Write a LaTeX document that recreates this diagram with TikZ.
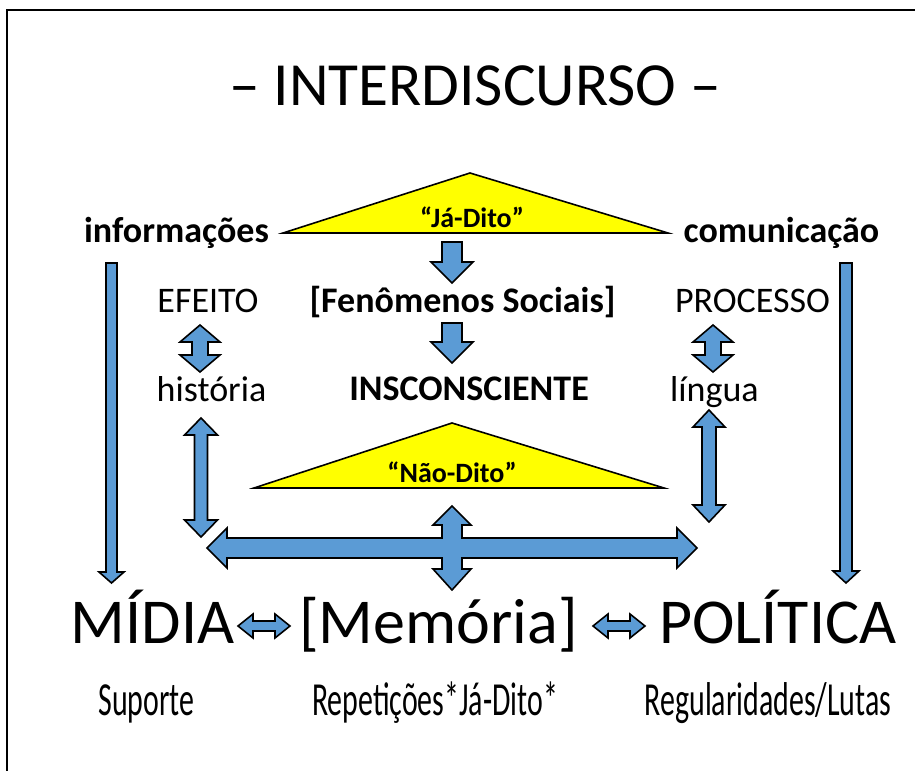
\documentclass[tikz,border=0pt]{standalone}
\usepackage{fontspec}
\setmainfont{Carlito}
\newfontfamily\narrowfont[FakeStretch=0.63]{Carlito}
\definecolor{arrowblue}{RGB}{91,155,213}
\definecolor{triyellow}{RGB}{255,255,0}
\newcommand\vdbl[6]{% x, ytop, ybot, shaft half, head half, head length
  \draw[blk] (#1-#4,#2+#6) -- (#1-#5,#2+#6) -- (#1,#2) -- (#1+#5,#2+#6) -- (#1+#4,#2+#6)
    -- (#1+#4,#3-#6) -- (#1+#5,#3-#6) -- (#1,#3) -- (#1-#5,#3-#6) -- (#1-#4,#3-#6) -- cycle;}
\newcommand\vdown[6]{% x, ytop, ytip, shaft half, head half, head length
  \draw[blk] (#1-#4,#2) -- (#1+#4,#2) -- (#1+#4,#3-#6) -- (#1+#5,#3-#6) -- (#1,#3)
    -- (#1-#5,#3-#6) -- (#1-#4,#3-#6) -- cycle;}
\newcommand\hdbl[6]{% y, xleft, xright, shaft half, head half, head length
  \draw[blk] (#2,#1) -- (#2+#6,#1-#5) -- (#2+#6,#1-#4) -- (#3-#6,#1-#4) -- (#3-#6,#1-#5)
    -- (#3,#1) -- (#3-#6,#1+#5) -- (#3-#6,#1+#4) -- (#2+#6,#1+#4) -- (#2+#6,#1+#5) -- cycle;}
\begin{document}
\begin{tikzpicture}[x=0.75pt,y=-0.75pt,
  lbl/.style={inner sep=0pt, outer sep=0pt, anchor=base},
  blk/.style={draw=black, line width=1.2pt, fill=arrowblue, line join=miter},
  tri/.style={draw=black, line width=1.2pt, fill=triyellow, line join=miter},
  frame/.style={draw=black, line width=1.6pt},
  titlef/.style={font=\fontsize{46}{50}\selectfont},
  midf/.style={font=\fontsize{27}{30}\selectfont},
  midbf/.style={font=\fontsize{27}{30}\selectfont\bfseries},
  labf/.style={font=\fontsize{21}{24}\selectfont\bfseries},
  bigf/.style={font=\fontsize{48}{52}\selectfont},
  smallf/.style={font=\fontsize{35.6}{40}\selectfont\narrowfont}]
\useasboundingbox (0,0) rectangle (915,771);
% frame
\draw[frame] (7,771) -- (7,10) -- (915,10);
% title
\node[lbl, titlef] (title) at (475,105) {– INTERDISCURSO –};
% triangles
\draw[tri] (283,233) -- (470,173) -- (668,233) -- cycle;
\draw[tri] (254,488) -- (452,423) -- (664,488) -- cycle;
\node[lbl, labf] (jadito) at (472,227) {“Já-Dito”};
\node[lbl, labf] (naodito) at (452,482) {“Não-Dito”};
% side words
\node[lbl, midbf] (info) at (176.5,242) {informações};
\node[lbl, midbf] (comu) at (781.5,242) {comunicação};
\node[lbl, midf] (efeito) at (208,312) {EFEITO};
\node[lbl, midbf] (fenom) at (462.5,312) {[Fenômenos Sociais]};
\node[lbl, midf] (processo) at (752.5,312) {PROCESSO};
\node[lbl, midf] (historia) at (211.5,401) {história};
\node[lbl, midbf] (insc) at (469,400) {INSCONSCIENTE};
\node[lbl, midf] (lingua) at (714.5,401) {língua};
% big words
\node[lbl, bigf] (midia) at (152.5,643) {MÍDIA};
\node[lbl, bigf] (memoria) at (438.5,643) {[Memória]};
\node[lbl, bigf] (politica) at (778,643) {POLÍTICA};
% bottom small words
\node[lbl, smallf] (suporte) at (146.5,715) {Suporte};
\node[lbl, smallf] (repet) at (435,715) {Repetições*Já-Dito*};
\node[lbl, smallf] (regul) at (768,715) {Regularidades/Lutas};
% long side arrows
\vdown{111.5}{263}{583}{5.5}{12.5}{11}
\vdown{846}{263}{583}{6}{13}{12}
% centre down arrows
\vdown{452}{242}{283}{10}{21}{21}
\vdown{452}{323}{363}{10}{21}{21}
% short double arrows
\vdbl{200}{325}{372}{8}{20}{17}
\vdbl{713}{325}{372}{8}{20}{17}
% long double arrows
\vdbl{201}{418}{537}{6.5}{16.5}{17}
\vdbl{709}{410}{522}{7}{16}{17}
% cross arrow
\draw[blk] (207,548) -- (227,528) -- (227,538) -- (442,538) -- (442,525) -- (433,525)
  -- (452,506) -- (471,525) -- (462,525) -- (462,538) -- (677,538) -- (677,528)
  -- (697,548) -- (677,568) -- (677,558) -- (462,558) -- (462,569) -- (471,569)
  -- (452,590) -- (433,569) -- (442,569) -- (442,558) -- (227,558) -- (227,568) -- cycle;
% small horizontal arrows
\hdbl{626}{238}{290}{5}{12}{15}
\hdbl{626}{593}{645}{5}{12}{15}
\end{tikzpicture}
\end{document}
